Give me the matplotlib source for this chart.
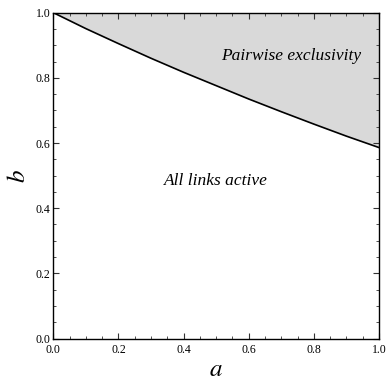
import numpy as np
import matplotlib.pyplot as plt
from matplotlib.ticker import MultipleLocator

# boundary curve
a_vals = [0.0, 0.1, 0.2, 0.3, 0.4, 0.5, 0.6, 0.7, 0.8, 0.9, 1.0]
b_vals = [1.0, 0.951, 0.905, 0.860, 0.817, 0.776, 0.735, 0.696, 0.658, 0.621, 0.586]

region_labels = ["Pairwise exclusivity", "All links active"]
region_pos = [(0.73, 0.855), (0.5, 0.472)]

plt.rcParams['font.family'] = ['Liberation Serif', 'DejaVu Serif']
plt.rcParams['mathtext.fontset'] = 'stix'

fig = plt.figure(figsize=(3.86, 3.83), dpi=100)
ax = fig.add_axes([0.138, 0.116, 0.844, 0.851])

ax.fill_between(a_vals, b_vals, 1.0, color='#d9d9d9', lw=0)
ax.plot(a_vals, b_vals, color='black', lw=1.2)

ax.set_xlim(0, 1)
ax.set_ylim(0, 1)
ax.xaxis.set_major_locator(MultipleLocator(0.2))
ax.yaxis.set_major_locator(MultipleLocator(0.2))
ax.xaxis.set_minor_locator(MultipleLocator(0.05))
ax.yaxis.set_minor_locator(MultipleLocator(0.05))
ax.xaxis.set_major_formatter(plt.FormatStrFormatter('%.1f'))
ax.yaxis.set_major_formatter(plt.FormatStrFormatter('%.1f'))
ax.tick_params(which='both', direction='in', top=True, right=True,
               labelsize=8.5, color='#333333', pad=2)
ax.tick_params(axis='x', which='major', pad=4)
ax.tick_params(which='major', length=4, width=0.8)
ax.tick_params(which='minor', length=2, width=0.6)
for s in ax.spines.values():
    s.set_linewidth(1.0)

ax.set_xlabel('$a$', fontsize=18, labelpad=2)
ax.set_ylabel('$b$', fontsize=18, labelpad=4)

for txt, (x, y) in zip(region_labels, region_pos):
    ax.text(x, y, txt, style='italic', fontsize=12.5, ha='center', va='baseline')

fig.savefig('out.png', dpi=100)
